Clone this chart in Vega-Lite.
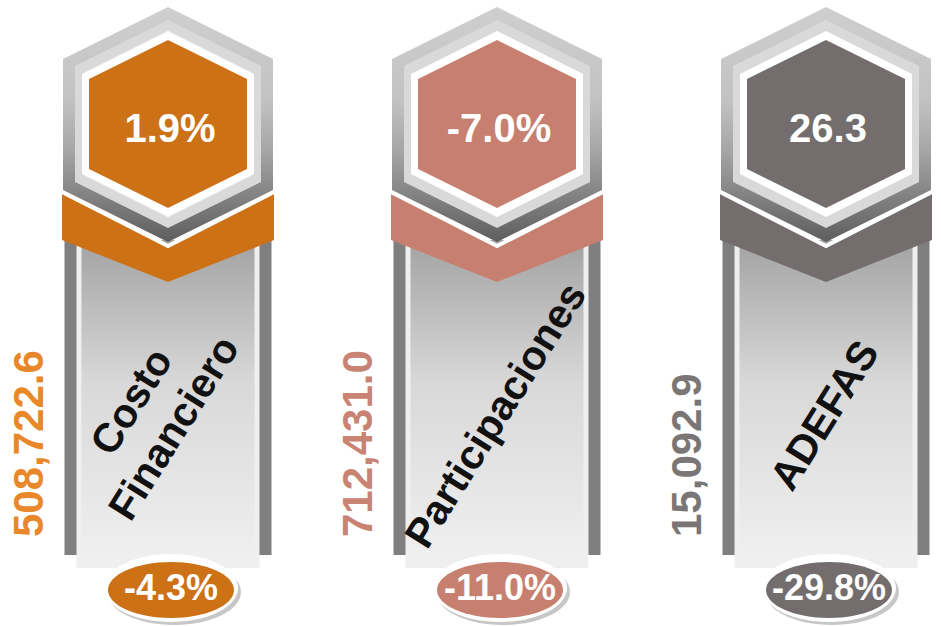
{
  "$schema": "https://vega.github.io/schema/vega-lite/v6.json",
  "width": 941,
  "height": 627,
  "autosize": {"type": "fit", "contains": "padding"},
  "padding": 0,
  "background": "white",
  "config": {"view": {"stroke": null}, "font": "Liberation Sans"},
  "data": {
    "values": [
      {"category": "Costo Financiero", "label": "Costo\nFinanciero", "amount": 508722.6, "top": "1.9%", "bottom": "-4.3%"},
      {"category": "Participaciones", "label": "Participaciones", "amount": 712431.0, "top": "-7.0%", "bottom": "-11.0%"},
      {"category": "ADEFAS", "label": "ADEFAS", "amount": 15092.9, "top": "26.3", "bottom": "-29.8%"}
    ]
  },
  "encoding": {
    "x": {
      "field": "category",
      "type": "nominal",
      "scale": {"type": "point", "domain": ["Costo Financiero", "Participaciones", "ADEFAS"], "range": [168, 826], "padding": 0},
      "axis": null
    }
  },
  "resolve": {"scale": {"color": "independent"}},
  "layer": [
    {
      "mark": {"type": "bar", "width": 207, "color": "#7F7F7F"},
      "encoding": {
        "y": {"datum": 240, "type": "quantitative", "scale": {"domain": [0, 627], "reverse": true, "nice": false, "zero": false}, "axis": null},
        "y2": {"datum": 555}
      }
    },
    {
      "mark": {"type": "bar", "width": 183, "color": "#EFEFEF"},
      "encoding": {
        "y": {"datum": 240, "type": "quantitative", "axis": null},
        "y2": {"datum": 568}
      }
    },
    {
      "mark": {
        "type": "bar", "width": 173,
        "color": {"gradient": "linear", "x1": 0, "y1": 0, "x2": 0, "y2": 1,
          "stops": [{"offset": 0, "color": "#A3A3A3"}, {"offset": 0.45, "color": "#D8D8D8"}, {"offset": 1, "color": "#EFEFEF"}]}
      },
      "encoding": {
        "y": {"datum": 240, "type": "quantitative", "axis": null},
        "y2": {"datum": 555}
      }
    },
    {
      "mark": {"type": "point", "shape": "M-106,-48 L0,7 L106,-48 L106,0 L0,42 L-106,0 Z", "size": 4, "filled": true, "opacity": 1, "strokeWidth": 0},
      "encoding": {
        "y": {"datum": 240, "type": "quantitative", "axis": null},
        "color": {"field": "category", "type": "nominal", "scale": {"domain": ["Costo Financiero", "Participaciones", "ADEFAS"], "range": ["#CC7116", "#C7806F", "#736E6D"]}, "legend": null}
      }
    },
    {
      "mark": {"type": "point", "shape": "M-108,-49 L0,6 L108,-49", "size": 4, "filled": false, "opacity": 1, "stroke": "white", "strokeWidth": 4},
      "encoding": {
        "y": {"datum": 240, "type": "quantitative", "axis": null}
      }
    },
    {
      "mark": {
        "type": "point", "shape": "M0,-117 L105,-65 L105,66 L0,118 L-105,66 L-105,-65 Z", "size": 4, "filled": true, "opacity": 1, "strokeWidth": 0,
        "fill": {"gradient": "linear", "x1": 0, "y1": 0, "x2": 0, "y2": 1,
          "stops": [{"offset": 0, "color": "#CFCFCF"}, {"offset": 0.4, "color": "#C2C2C2"}, {"offset": 0.62, "color": "#A4A4A4"}, {"offset": 0.8, "color": "#838383"}, {"offset": 1, "color": "#5E5E5E"}]}
      },
      "encoding": {
        "y": {"datum": 124, "type": "quantitative", "axis": null}
      }
    },
    {
      "mark": {"type": "point", "shape": "M0,-104 L93,-58 L93,58 L0,104 L-93,58 L-93,-58 Z", "size": 4, "filled": true, "opacity": 1, "strokeWidth": 0, "fill": "#D9D9D9"},
      "encoding": {
        "y": {"datum": 124, "type": "quantitative", "axis": null}
      }
    },
    {
      "mark": {"type": "point", "shape": "M0,-93 L86,-50 L86,50 L0,93 L-86,50 L-86,-50 Z", "size": 4, "filled": true, "opacity": 1, "strokeWidth": 0, "fill": "#FFFFFF"},
      "encoding": {
        "y": {"datum": 124, "type": "quantitative", "axis": null}
      }
    },
    {
      "mark": {"type": "point", "shape": "M0,-84 L79,-45 L79,45 L0,84 L-79,45 L-79,-45 Z", "size": 4, "filled": true, "opacity": 1, "strokeWidth": 0},
      "encoding": {
        "y": {"datum": 124, "type": "quantitative", "axis": null},
        "color": {"field": "category", "type": "nominal", "scale": {"domain": ["Costo Financiero", "Participaciones", "ADEFAS"], "range": ["#CC7116", "#C7806F", "#736E6D"]}, "legend": null}
      }
    },
    {
      "mark": {"type": "text", "fontSize": 40, "fontWeight": "bold", "color": "white", "align": "center", "baseline": "middle", "xOffset": 2},
      "encoding": {
        "y": {"datum": 130, "type": "quantitative", "axis": null},
        "text": {"field": "top", "type": "nominal"}
      }
    },
    {
      "mark": {"type": "text", "fontSize": 42, "fontWeight": "bold", "align": "left", "baseline": "middle", "angle": 270, "xOffset": -138},
      "encoding": {
        "y": {"datum": 537, "type": "quantitative", "axis": null},
        "text": {"field": "amount", "type": "quantitative", "format": ",.1f"},
        "color": {"field": "category", "type": "nominal", "scale": {"domain": ["Costo Financiero", "Participaciones", "ADEFAS"], "range": ["#E8882A", "#C98372", "#7A7675"]}, "legend": null}
      }
    },
    {
      "mark": {
        "type": "text", "fontSize": 41, "fontWeight": "bold", "color": "#111111", "align": "center", "baseline": "middle", "angle": -58, "lineBreak": "\n", "lineHeight": 50,
        "dy": {"expr": "-(length(split(datum.label, '\\n')) - 1) * 37"},
        "dx": {"expr": "-(length(split(datum.label, '\\n')) - 1) * 7"}
      },
      "encoding": {
        "y": {"datum": 416, "type": "quantitative", "axis": null},
        "text": {"field": "label", "type": "nominal"}
      }
    },
    {
      "mark": {"type": "point", "shape": "M-67,0 A67,33 0 1,0 67,0 A67,33 0 1,0 -67,0 Z", "size": 4, "filled": true, "opacity": 0.22, "strokeWidth": 0, "fill": "#000000", "xOffset": 6},
      "encoding": {
        "y": {"datum": 592, "type": "quantitative", "axis": null}
      }
    },
    {
      "mark": {"type": "point", "shape": "M-67,0 A67,34 0 1,0 67,0 A67,34 0 1,0 -67,0 Z", "size": 4, "filled": true, "opacity": 1, "strokeWidth": 0, "fill": "#FFFFFF", "xOffset": 3},
      "encoding": {
        "y": {"datum": 588, "type": "quantitative", "axis": null}
      }
    },
    {
      "mark": {"type": "point", "shape": "M-63,0 A63,28 0 1,0 63,0 A63,28 0 1,0 -63,0 Z", "size": 4, "filled": true, "opacity": 1, "strokeWidth": 0, "xOffset": 3},
      "encoding": {
        "y": {"datum": 590, "type": "quantitative", "axis": null},
        "color": {"field": "category", "type": "nominal", "scale": {"domain": ["Costo Financiero", "Participaciones", "ADEFAS"], "range": ["#CC7116", "#C7806F", "#736E6D"]}, "legend": null}
      }
    },
    {
      "mark": {"type": "text", "fontSize": 36, "fontWeight": "bold", "color": "white", "align": "center", "baseline": "middle", "xOffset": 3},
      "encoding": {
        "y": {"datum": 589, "type": "quantitative", "axis": null},
        "text": {"field": "bottom", "type": "nominal"}
      }
    }
  ]
}
